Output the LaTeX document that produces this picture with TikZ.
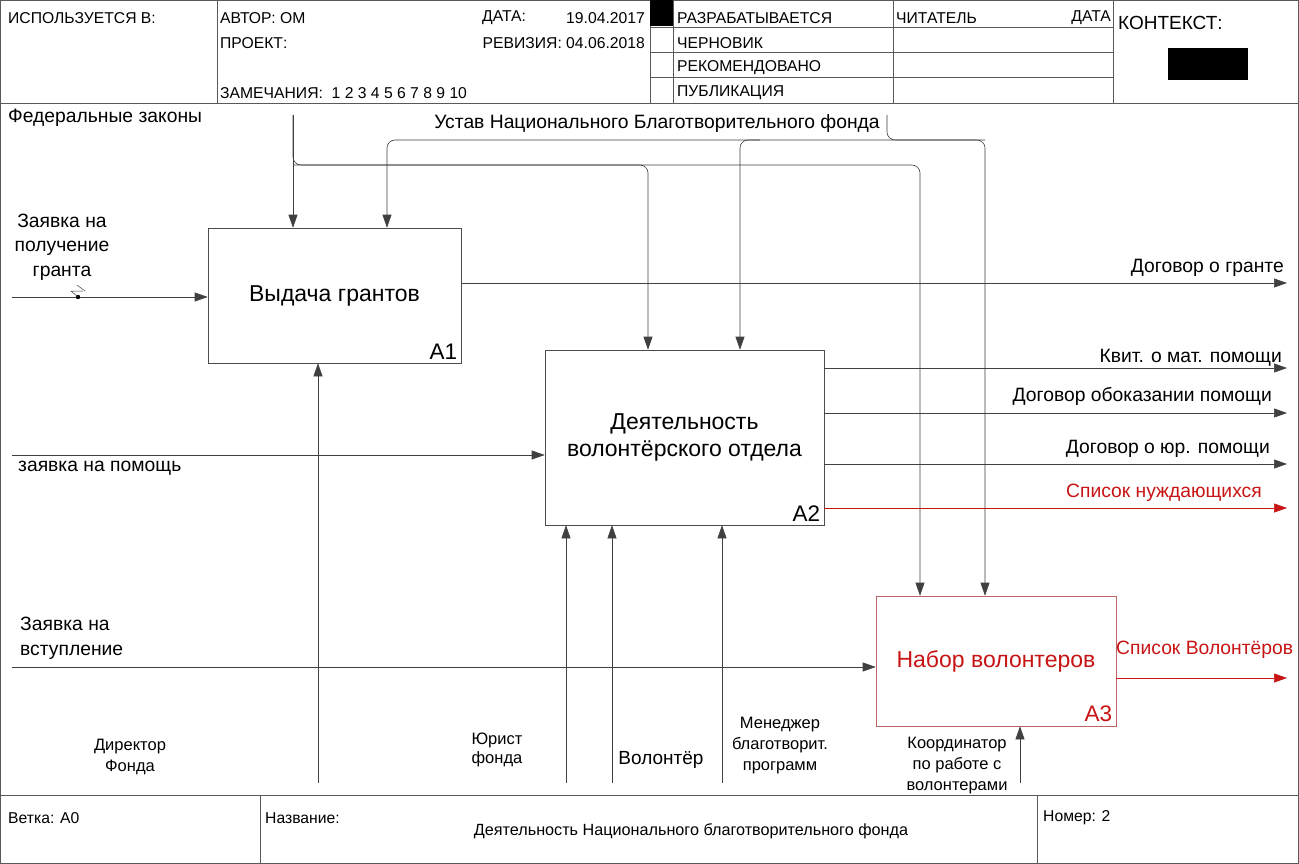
\documentclass[tikz,border=0pt]{standalone}
\usepackage{fontspec}
\setmainfont{Liberation Sans}
\usetikzlibrary{arrows.meta}
\definecolor{idefred}{RGB}{200,20,20}
\definecolor{boxred}{RGB}{190,100,100}

\begin{document}
\begin{tikzpicture}[x=1pt, y=-1pt,
    frame/.style={draw=black!65, line width=0.7pt},
    flow/.style={draw=black!75, line width=0.6pt, rounded corners=8pt, -{Triangle[length=13pt,width=9pt]}},
    redflow/.style={flow, draw=idefred, -{Triangle[length=13pt,width=9pt,fill=idefred]}},
    func/.style={draw=black!70, line width=0.6pt, inner sep=0, align=center, font=\fontsize{23}{27}\selectfont},
    hdr/.style={anchor=west, inner sep=0, font=\fontsize{15.7}{17}\selectfont},
    lbl/.style={inner sep=0, font=\fontsize{19.3}{22}\selectfont},
    small/.style={inner sep=0, align=center, font=\fontsize{16.5}{21}\selectfont},
    num/.style={anchor=south east, inner sep=4pt, font=\fontsize{22.5}{26}\selectfont}
  ]
  \useasboundingbox (0,0) rectangle (1299,864);

  % Frame and header
  \draw[frame, fill=white] (0.5,0.5) rectangle (1298.5,863.5);
  \draw[frame] (0,103) -- (1299,103);
  \draw[frame] (217,0) -- (217,103);
  \draw[frame] (650,0) -- (650,103);
  \draw[frame] (673,0) -- (673,103);
  \draw[frame] (893,0) -- (893,103);
  \draw[frame] (1113,0) -- (1113,103);
  \foreach \y in {27,52,77}
    \draw[frame] (650,\y) -- (1113,\y);
  \fill[black] (650,0) rectangle (673,26);
  \fill[black] (1168,48) rectangle (1248,80);

  \node[hdr] (used) at (8,18) {ИСПОЛЬЗУЕТСЯ В:};
  \node[hdr] (author) at (220,18) {АВТОР: ОМ};
  \node[hdr] (project) at (220,43) {ПРОЕКТ:};
  \node[hdr] (notes) at (220,93) {ЗАМЕЧАНИЯ:\ \ 1 2 3 4 5 6 7 8 9 10};
  \node[hdr] (date) at (482,18) {ДАТА:};
  \node[hdr, anchor=east] (dateval) at (645,18) {19.04.2017};
  \node[hdr, anchor=east] (rev) at (645,43) {РЕВИЗИЯ: 04.06.2018};
  \node[hdr] (st1) at (677,18) {РАЗРАБАТЫВАЕТСЯ};
  \node[hdr] (st2) at (677,43) {ЧЕРНОВИК};
  \node[hdr] (st3) at (677,68) {РЕКОМЕНДОВАНО};
  \node[hdr] (st4) at (677,93) {ПУБЛИКАЦИЯ};
  \node[hdr] (reader) at (896,18) {ЧИТАТЕЛЬ};
  \node[hdr, anchor=east] (rdate) at (1111,18) {ДАТА};
  \node[hdr, font=\fontsize{19}{21}\selectfont] (context) at (1118,23) {КОНТЕКСТ:};

  % Footer
  \draw[frame] (0,795) -- (1299,795);
  \draw[frame] (260,795) -- (260,864);
  \draw[frame] (1037,795) -- (1037,864);
  \node[hdr] (branch) at (8,818) {Ветка: A0};
  \node[hdr] (title) at (265,818) {Название:};
  \node[hdr, anchor=center, font=\fontsize{16.2}{18}\selectfont] (titleval) at (691,831) {Деятельность Национального благотворительного фонда};
  \node[hdr] (number) at (1043,818) {Номер: 2};

  % Function boxes
  \node[func, minimum width=253, minimum height=135] (a1) at (334.5,295.5) {Выдача грантов};
  \node[num] at (a1.south east) {A1};
  \node[func, minimum width=279, minimum height=175] (a2) at (684.5,437.5) {Деятельность\\волонтёрского отдела};
  \node[num] at (a2.south east) {A2};
  \node[func, draw=boxred, text=idefred, minimum width=240, minimum height=130] (a3) at (996,661) {Набор волонтеров};
  \node[num, text=idefred] at (a3.south east) {A3};

  % Controls
  \coordinate (fzA) at (293,115);
  \coordinate (fzB) at (293,165);
  \coordinate (fzC) at (648,165);
  \coordinate (fzD) at (920,165);
  \draw[flow] (fzA) -- (fzA |- a1.north);
  \draw[flow] (fzA) -- (fzB) -- (fzD) -- (fzD |- a3.north);
  \draw[flow] (fzB) -- (fzC) -- (fzC |- a2.north);
  \node[lbl, anchor=west] (fzlbl) at (8,118) {Федеральные законы};

  \coordinate (usA) at (887,115);
  \coordinate (usB) at (887,140);
  \coordinate (usC) at (985,140);
  \coordinate (usD) at (387,140);
  \coordinate (usE) at (740,140);
  \draw[flow] (usA) -- (usB) -- (usC) -- (usC |- a3.north);
  \draw[flow] (usC) -- (usD) -- (usD |- a1.north);
  \draw[flow] (usE) ++(20,0) -- (usE) -- (usE |- a2.north);
  \node[lbl, anchor=east] (uslbl) at (880,124) {Устав Национального Благотворительного фонда};

  % Inputs
  \coordinate (inA) at (12,297);
  \coordinate (inB) at (12,455);
  \coordinate (inC) at (12,667);
  \draw[flow] (inA) -- (inA -| a1.west);
  \draw[flow] (inB) -- (inB -| a2.west);
  \draw[flow] (inC) -- (inC -| a3.west);
  \node[lbl, align=center, font=\fontsize{19.3}{24.5}\selectfont] (inAlbl) at (62,247) {Заявка на\\получение\\гранта};
  \coordinate (sq) at (78,297);
  \fill (sq) circle (2.2);
  \draw[black!75, line width=0.5pt] (sq) -- ++(-7,-6) -- ++(12,0);
  \draw[black!75, line width=0.5pt] (77,285) -- (85,291);
  \node[lbl, anchor=west] (inBlbl) at (18,468) {заявка на помощь};
  \node[lbl, anchor=west, align=left, font=\fontsize{19.3}{25}\selectfont] (inClbl) at (20,638) {Заявка на\\вступление};

  % Outputs
  \coordinate (outA) at (1287,283);
  \draw[flow] (a1.east |- outA) -- (outA);
  \node[lbl, anchor=east] at (1284,268) {Договор о гранте};
  \foreach \y/\txt/\lx/\ly in {368/Квит. о мат. помощи/1282/358, 413/Договор обоказании помощи/1272/396, 464/Договор о юр. помощи/1270/449} {
    \coordinate (out\y) at (1287,\y);
    \draw[flow] (a2.east |- out\y) -- (out\y);
    \node[lbl, anchor=east] at (\lx,\ly) {\txt};
  }
  \coordinate (outB) at (1287,508);
  \draw[redflow] (a2.east |- outB) -- (outB);
  \node[lbl, anchor=east, text=idefred] at (1262,493) {Список нуждающихся};
  \coordinate (outC) at (1287,678);
  \draw[redflow] (a3.east |- outC) -- (outC);
  \node[lbl, anchor=west, text=idefred] at (1116,650) {Список Волонтёров};

  % Mechanisms
  \coordinate (mDir) at (318,783);
  \coordinate (mLaw) at (566,783);
  \coordinate (mVol) at (612,783);
  \coordinate (mMan) at (722,783);
  \coordinate (mCoo) at (1020,783);
  \draw[flow] (mDir) -- (mDir |- a1.south);
  \draw[flow] (mLaw) -- (mLaw |- a2.south);
  \draw[flow] (mVol) -- (mVol |- a2.south);
  \draw[flow] (mMan) -- (mMan |- a2.south);
  \draw[flow] (mCoo) -- (mCoo |- a3.south);
  \node[small] (dirlbl) at (130,757) {Директор\\Фонда};
  \node[small, font=\fontsize{16.5}{19}\selectfont] (lawlbl) at (497,750) {Юрист\\фонда};
  \node[lbl, font=\fontsize{19}{21}\selectfont] (vollbl) at (661,760) {Волонтёр};
  \node[small] (manlbl) at (780,746) {Менеджер\\благотворит.\\программ};
  \node[small] (coolbl) at (957,766) {Координатор\\по работе с\\волонтерами};
\end{tikzpicture}
\end{document}
